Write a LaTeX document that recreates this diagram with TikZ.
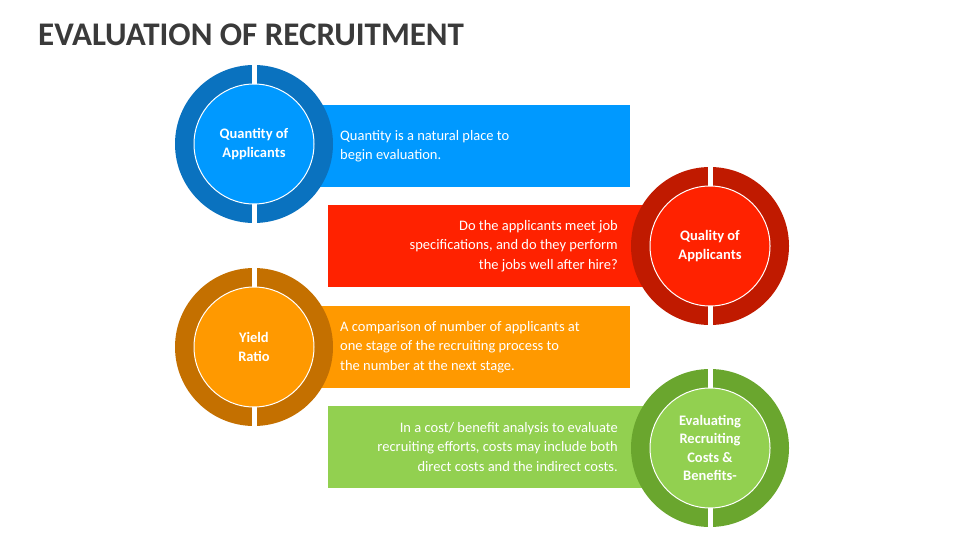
\documentclass[tikz,border=0pt]{standalone}
\usepackage{fontspec}
\setmainfont{Carlito}
\usetikzlibrary{positioning}
\definecolor{Bcolor}{HTML}{0099FF}
\definecolor{Bdark}{HTML}{0A72BF}
\definecolor{Rcolor}{HTML}{FF2200}
\definecolor{Rdark}{HTML}{C01A00}
\definecolor{Ocolor}{HTML}{FF9900}
\definecolor{Odark}{HTML}{C47000}
\definecolor{Gcolor}{HTML}{92D050}
\definecolor{Gdark}{HTML}{6AA62E}
\definecolor{Tcolor}{HTML}{3A3A3A}
\tikzset{
  bar/.style = {rectangle, minimum width=318pt, minimum height=84pt, draw=white, line width=1.5pt, inner sep=0pt},
  ring/.style = {circle, minimum size=158pt, inner sep=0pt},
  core/.style = {circle, minimum size=120pt, draw=white, line width=1pt, text=white, align=center, inner sep=0pt,
                 font=\fontsize{14.5}{18.5}\selectfont\bfseries},
  gap/.style = {fill=white, minimum width=5pt, minimum height=22pt, inner sep=0pt},
  bartext/.style = {text=white, font=\fontsize{14.5}{19.5}\selectfont, inner sep=0pt},
}
\begin{document}
\begin{tikzpicture}[x=1pt, y=-1pt]
\useasboundingbox (0,0) rectangle (960,540);

\node (title) [anchor=base west, text=Tcolor, font=\fontsize{33}{33}\selectfont\bfseries, inner sep=0pt] at (38,46) {EVALUATION OF RECRUITMENT};

% bars
\node (bar1) [bar, fill=Bcolor] at (472,146) {};
\node (bar2) [bar, fill=Rcolor] at (486,246) {};
\node (bar3) [bar, fill=Ocolor] at (472,347) {};
\node (bar4) [bar, fill=Gcolor] at (486,447) {};

\node (txt1) [bartext, anchor=west, align=left] at (340,146) {Quantity is a natural place to\\begin evaluation.};
\node (txt2) [bartext, anchor=east, align=right] at (618,246) {Do the applicants meet job\\specifications, and do they perform\\the jobs well after hire?};
\node (txt3) [bartext, anchor=west, align=left] at (340,347) {A comparison of number of applicants at\\one stage of the recruiting process to\\the number at the next stage.};
\node (txt4) [bartext, anchor=east, align=right] at (618,447) {In a cost/ benefit analysis to evaluate\\recruiting efforts, costs may include both\\direct costs and the indirect costs.};

% circles
\foreach \nm/\cx/\cy/\dk in {c1/254/144/Bdark, c2/710/246/Rdark, c3/254/347/Odark, c4/710/448/Gdark}{
  \node (ring\nm) [ring, fill=\dk] at (\cx,\cy) {};
  \node [gap, above=-21pt of ring\nm.north] {};
  \node [gap, below=-21pt of ring\nm.south] {};
}
\node (quantity) [core, fill=Bcolor] at (ringc1) {Quantity of\\Applicants};
\node (quality) [core, fill=Rcolor] at (ringc2) {Quality of\\Applicants};
\node (yield) [core, fill=Ocolor] at (ringc3) {Yield\\Ratio};
\node (costs) [core, fill=Gcolor] at (ringc4) {Evaluating\\Recruiting\\Costs \&\\Benefits-};

\end{tikzpicture}
\end{document}
